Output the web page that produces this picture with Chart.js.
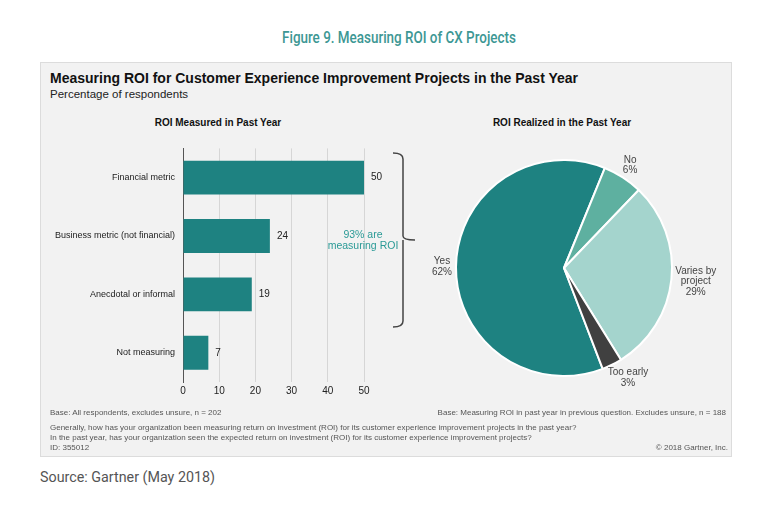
<!DOCTYPE html>
<html>
<head>
<meta charset="utf-8">
<script src="https://cdn.jsdelivr.net/npm/chart.js@4.4.1/dist/chart.umd.min.js"></script>
<style>
  body { margin:0; background:#fff; width:768px; height:512px; position:relative; overflow:hidden;
         font-family:"Liberation Sans", Arial, sans-serif; }
  .abs { position:absolute; }
  #fig { left:15px; width:768px; top:27px; text-align:center; color:#3d9794; font-family:Roboto, sans-serif;
         font-weight:500; font-size:17px; }
  #fig span { display:inline-block; transform:scaleX(0.79); }
  #panel { left:40px; top:62px; width:690px; height:393px; background:#f2f2f2; border:1px solid #dcdcdc; }
  #title { left:50px; top:70px; font-weight:bold; font-size:14px; color:#111; }
  #sub { left:50px; top:88px; font-size:11.5px; color:#222; }
  .ctitle { font-weight:bold; font-size:10px; color:#111; top:117px; }
  .note { font-size:8px; color:#555; line-height:10px; }
  #callout { left:313px; width:100px; top:229px; text-align:center; color:#2a9a96; font-size:10.5px; line-height:11px; }
  #src { left:40px; top:469px; font-family:Roboto, sans-serif; font-size:14.3px; color:#555; }
</style>
</head>
<body>
<div class="abs" id="fig"><span>Figure 9. Measuring ROI of CX Projects</span></div>
<div class="abs" id="panel"></div>
<div class="abs" id="title">Measuring ROI for Customer Experience Improvement Projects in the Past Year</div>
<div class="abs" id="sub">Percentage of respondents</div>
<div class="abs ctitle" style="left:118px;width:200px;text-align:center">ROI Measured in Past Year</div>
<div class="abs ctitle" style="left:462px;width:200px;text-align:center">ROI Realized in the Past Year</div>

<canvas id="barChart" class="abs" width="350" height="275" style="left:40px;top:135px"></canvas>
<canvas id="pieChart" class="abs" width="330" height="270" style="left:400px;top:132px"></canvas>

<svg class="abs" style="left:385px;top:145px" width="40" height="190">
  <path d="M8 8 Q18 8 18 14 L18 91 Q18 95 30 95 M18 95 Q18 99 18 103 L18 176 Q18 182 8 182"
        fill="none" stroke="#444" stroke-width="1.5"/>
</svg>
<div class="abs" id="callout">93% are<br>measuring ROI</div>

<div class="abs note" style="left:50px;top:408px">Base: All respondents, excludes unsure, n = 202</div>
<div class="abs note" style="right:42px;top:408px">Base: Measuring ROI in past year in previous question. Excludes unsure, n = 188</div>
<div class="abs note" style="left:50px;top:423px">Generally, how has your organization been measuring return on investment (ROI) for its customer experience improvement projects in the past year?<br>In the past year, has your organization seen the expected return on investment (ROI) for its customer experience improvement projects?<br>ID: 355012</div>
<div class="abs note" style="right:40px;top:443px">© 2018 Gartner, Inc.</div>
<div class="abs" id="src">Source: Gartner (May 2018)</div>

<script>
var barLabels = ['Financial metric', 'Business metric (not financial)', 'Anecdotal or informal', 'Not measuring'];
var barValues = [50, 24, 19, 7];

var pieLabels = ['Yes', 'No', 'Varies by project', 'Too early'];
var pieValues = [62, 6, 29, 3];
var pieLabelLines = [['Yes'], ['No'], ['Varies by', 'project'], ['Too early']];
var pieColors = ['#1e8281', '#5eb0a0', '#a4d4cd', '#404040'];

Chart.defaults.font.family = '"Liberation Sans", Arial, sans-serif';
Chart.defaults.color = '#333';

// numbers at the end of each bar
var barValuePlugin = {
  id: 'barValues',
  afterDatasetsDraw: function(chart) {
    var ctx = chart.ctx;
    var meta = chart.getDatasetMeta(0);
    ctx.save();
    ctx.font = '10px "Liberation Sans", Arial, sans-serif';
    ctx.fillStyle = '#222';
    ctx.textBaseline = 'middle';
    meta.data.forEach(function(bar, i) {
      ctx.fillText(barValues[i], bar.x + 7, bar.y);
    });
    ctx.restore();
  }
};

// labels outside the pie
var pieLabelPlugin = {
  id: 'pieLabels',
  afterDatasetsDraw: function(chart) {
    var ctx = chart.ctx;
    var meta = chart.getDatasetMeta(0);
    var lh = 10.5;
    ctx.save();
    ctx.font = '10px "Liberation Sans", Arial, sans-serif';
    ctx.fillStyle = '#444';
    ctx.textAlign = 'center';
    ctx.textBaseline = 'middle';
    meta.data.forEach(function(arc, i) {
      var lines = pieLabelLines[i].concat([pieValues[i] + '%']);
      var mid = (arc.startAngle + arc.endAngle) / 2;
      var cx = Math.cos(mid), cy = Math.sin(mid);
      var w = 0;
      lines.forEach(function(l) { w = Math.max(w, ctx.measureText(l).width); });
      var h = lines.length * lh;
      var ax = arc.x + cx * (arc.outerRadius + 4);
      var ay = arc.y + cy * (arc.outerRadius + 4);
      // push the box out so its nearest edge sits on the anchor
      var x = ax + Math.sign(cx) * Math.max(Math.abs(cx), 0.7) * w / 2;
      var y = ay + cy * h / 2;
      lines.forEach(function(l, j) {
        ctx.fillText(l, x, y - h / 2 + lh / 2 + j * lh);
      });
    });
    ctx.restore();
  }
};

new Chart(document.getElementById('barChart'), {
  type: 'bar',
  data: {
    labels: barLabels,
    datasets: [{
      data: barValues,
      backgroundColor: '#1e8281',
      categoryPercentage: 1,
      barPercentage: 0.58
    }]
  },
  options: {
    indexAxis: 'y',
    responsive: false,
    animation: false,
    layout: { padding: { top: 11, right: 26, left: 0, bottom: 0 } },
    plugins: { legend: { display: false }, tooltip: { enabled: false } },
    scales: {
      x: {
        min: 0, max: 50,
        ticks: { stepSize: 10, padding: 3, color: '#222', font: { size: 10 } },
        grid: { color: '#d6d6d6', drawTicks: false },
        border: { display: false },
        afterFit: function(s) { s.height = 28; }
      },
      y: {
        ticks: { padding: 8, color: '#222', font: { size: 9 } },
        grid: { display: false, drawTicks: false, tickLength: 0 },
        border: { color: '#555', width: 1 },
        afterFit: function(s) { s.width = 143; }
      }
    }
  },
  plugins: [barValuePlugin]
});

new Chart(document.getElementById('pieChart'), {
  type: 'pie',
  data: {
    labels: pieLabels,
    datasets: [{
      data: pieValues,
      backgroundColor: pieColors,
      borderColor: '#ffffff',
      borderWidth: 2
    }]
  },
  options: {
    responsive: false,
    animation: false,
    rotation: 159,
    layout: { padding: { left: 55, top: 27, right: 57, bottom: 25 } },
    plugins: { legend: { display: false }, tooltip: { enabled: false } }
  },
  plugins: [pieLabelPlugin]
});
</script>
</body>
</html>
